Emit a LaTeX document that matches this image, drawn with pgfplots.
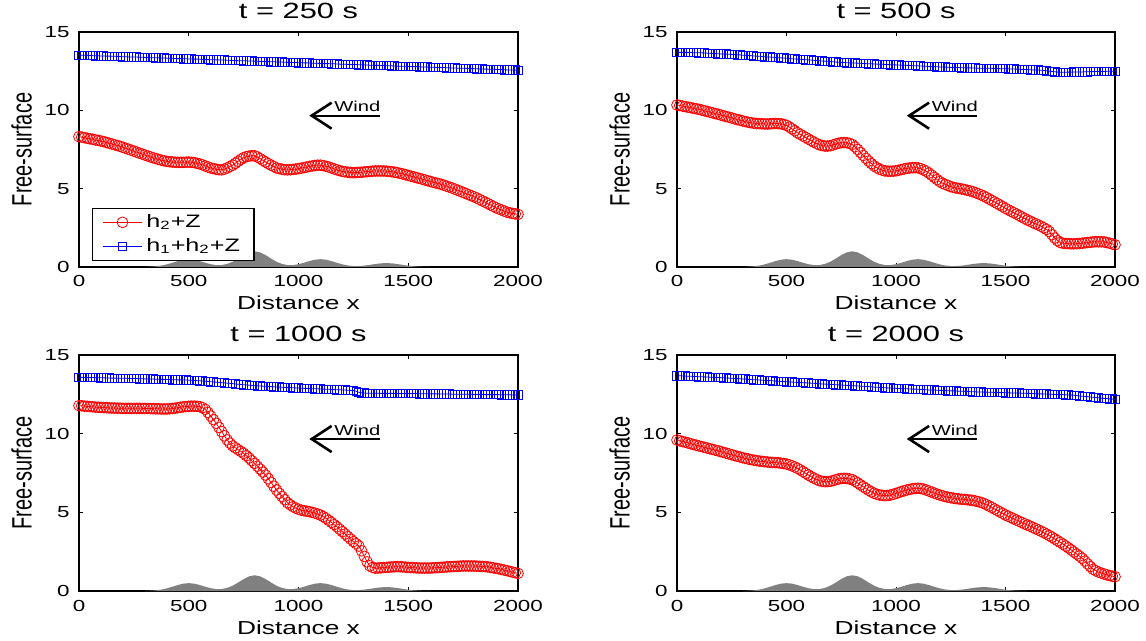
\documentclass[border=0pt]{standalone}
\usepackage{fontspec}
\setmainfont{Liberation Sans}
\newfontfamily\wide{Liberation Sans}[FakeStretch=1.4]
\usepackage{pgfplots}
\usepackage{pgfplotstable}
\pgfplotsset{compat=1.18}

% free surfaces at t = 250, 500, 1000, 2000 s (r = h2+Z, b = h1+h2+Z)
\pgfplotstableread{
x r1 b1 r2 b2 r3 b3 r4 b4
0 8.32 13.52 10.34 13.70 11.78 13.58 9.60 13.68
12.5 8.29 13.52 10.31 13.70 11.77 13.58 9.55 13.68
25 8.25 13.51 10.27 13.70 11.75 13.57 9.50 13.67
37.5 8.22 13.51 10.24 13.70 11.74 13.57 9.46 13.66
50 8.18 13.50 10.20 13.69 11.72 13.57 9.41 13.65
62.5 8.15 13.49 10.17 13.69 11.71 13.57 9.36 13.65
75 8.11 13.48 10.13 13.68 11.69 13.56 9.31 13.64
87.5 8.08 13.48 10.10 13.68 11.68 13.56 9.27 13.63
100 8.04 13.47 10.06 13.67 11.67 13.55 9.22 13.62
112.5 8.00 13.47 10.02 13.67 11.66 13.55 9.18 13.62
125 7.95 13.46 9.97 13.66 11.65 13.54 9.13 13.61
137.5 7.90 13.46 9.93 13.65 11.64 13.54 9.09 13.60
150 7.85 13.45 9.88 13.64 11.63 13.53 9.04 13.59
162.5 7.80 13.45 9.84 13.63 11.63 13.53 9.00 13.58
175 7.75 13.44 9.79 13.62 11.62 13.52 8.95 13.57
187.5 7.70 13.43 9.75 13.61 11.62 13.52 8.91 13.57
200 7.64 13.42 9.70 13.60 11.61 13.52 8.86 13.56
212.5 7.58 13.42 9.65 13.60 11.61 13.52 8.81 13.55
225 7.52 13.41 9.60 13.59 11.61 13.51 8.76 13.54
237.5 7.46 13.41 9.56 13.58 11.61 13.51 8.71 13.53
250 7.40 13.40 9.51 13.57 11.61 13.50 8.66 13.52
262.5 7.33 13.40 9.46 13.56 11.61 13.50 8.61 13.51
275 7.27 13.39 9.41 13.55 11.61 13.49 8.56 13.50
287.5 7.21 13.39 9.37 13.54 11.61 13.49 8.52 13.49
300 7.15 13.38 9.32 13.52 11.60 13.48 8.47 13.48
312.5 7.09 13.37 9.28 13.51 11.60 13.48 8.43 13.47
325 7.03 13.36 9.24 13.50 11.59 13.47 8.39 13.45
337.5 6.97 13.36 9.21 13.49 11.59 13.47 8.35 13.44
350 6.92 13.35 9.18 13.47 11.58 13.46 8.32 13.43
362.5 6.87 13.35 9.16 13.46 11.58 13.46 8.29 13.42
375 6.82 13.34 9.15 13.45 11.57 13.45 8.26 13.41
387.5 6.78 13.34 9.14 13.44 11.57 13.45 8.24 13.40
400 6.74 13.33 9.13 13.42 11.57 13.44 8.22 13.39
412.5 6.72 13.33 9.13 13.41 11.58 13.44 8.20 13.38
425 6.70 13.32 9.14 13.40 11.60 13.43 8.18 13.37
437.5 6.69 13.31 9.15 13.39 11.62 13.43 8.17 13.36
450 6.68 13.30 9.16 13.37 11.65 13.42 8.16 13.34
462.5 6.68 13.30 9.15 13.36 11.68 13.42 8.15 13.33
475 6.68 13.29 9.14 13.35 11.70 13.41 8.13 13.32
487.5 6.69 13.29 9.10 13.34 11.72 13.41 8.10 13.31
500 6.70 13.28 9.04 13.32 11.74 13.40 8.07 13.30
512.5 6.68 13.28 8.94 13.31 11.75 13.39 8.02 13.29
525 6.66 13.27 8.82 13.29 11.75 13.38 7.96 13.28
537.5 6.62 13.27 8.70 13.28 11.74 13.37 7.88 13.27
550 6.58 13.26 8.57 13.27 11.72 13.36 7.80 13.26
562.5 6.52 13.25 8.47 13.26 11.65 13.35 7.70 13.25
575 6.45 13.24 8.37 13.24 11.55 13.33 7.59 13.24
587.5 6.38 13.24 8.27 13.23 11.35 13.32 7.48 13.23
600 6.32 13.23 8.17 13.22 11.12 13.30 7.37 13.22
612.5 6.28 13.23 8.07 13.21 10.89 13.29 7.27 13.21
625 6.24 13.22 7.97 13.19 10.66 13.27 7.17 13.20
637.5 6.21 13.22 7.88 13.18 10.40 13.26 7.09 13.19
650 6.20 13.21 7.80 13.16 10.13 13.24 7.01 13.17
662.5 6.25 13.21 7.75 13.15 9.86 13.23 6.97 13.16
675 6.32 13.20 7.72 13.14 9.60 13.21 6.95 13.15
687.5 6.41 13.19 7.72 13.13 9.40 13.20 6.95 13.14
700 6.50 13.18 7.74 13.11 9.22 13.18 6.97 13.13
712.5 6.62 13.18 7.79 13.10 9.10 13.16 7.02 13.12
725 6.75 13.17 7.85 13.08 8.98 13.14 7.07 13.11
737.5 6.87 13.17 7.90 13.07 8.87 13.13 7.12 13.10
750 6.98 13.16 7.93 13.06 8.75 13.11 7.15 13.09
762.5 7.04 13.16 7.94 13.05 8.60 13.10 7.16 13.08
775 7.08 13.15 7.93 13.04 8.45 13.08 7.15 13.07
787.5 7.10 13.15 7.89 13.03 8.28 13.07 7.12 13.06
800 7.10 13.14 7.82 13.02 8.11 13.05 7.08 13.05
812.5 7.02 13.13 7.67 13.02 7.93 13.04 6.98 13.04
825 6.92 13.12 7.50 13.01 7.75 13.03 6.87 13.03
837.5 6.81 13.12 7.31 13.00 7.56 13.02 6.75 13.02
850 6.70 13.11 7.12 12.99 7.37 13.01 6.63 13.01
862.5 6.60 13.11 6.94 12.98 7.14 13.00 6.52 13.00
875 6.50 13.10 6.76 12.97 6.90 12.99 6.40 12.99
887.5 6.41 13.10 6.60 12.97 6.66 12.98 6.30 12.98
900 6.32 13.09 6.45 12.96 6.42 12.97 6.21 12.96
912.5 6.28 13.09 6.34 12.95 6.21 12.96 6.15 12.95
925 6.24 13.08 6.24 12.94 6.00 12.95 6.10 12.94
937.5 6.21 13.07 6.18 12.94 5.80 12.94 6.08 12.93
950 6.20 13.06 6.13 12.93 5.61 12.93 6.06 12.92
962.5 6.21 13.06 6.12 12.92 5.48 12.93 6.07 12.91
975 6.23 13.05 6.11 12.91 5.36 12.92 6.10 12.90
987.5 6.25 13.05 6.12 12.91 5.27 12.91 6.15 12.89
1000 6.28 13.04 6.14 12.90 5.19 12.90 6.20 12.88
1012.5 6.31 13.04 6.18 12.89 5.14 12.89 6.26 12.87
1025 6.35 13.03 6.22 12.88 5.10 12.88 6.32 12.86
1037.5 6.38 13.03 6.26 12.88 5.07 12.88 6.37 12.86
1050 6.42 13.02 6.30 12.87 5.04 12.87 6.42 12.85
1062.5 6.45 13.01 6.32 12.86 5.00 12.86 6.46 12.84
1075 6.48 13.00 6.34 12.85 4.95 12.85 6.50 12.83
1087.5 6.50 13.00 6.34 12.85 4.89 12.85 6.52 12.83
1100 6.50 12.99 6.33 12.84 4.83 12.84 6.53 12.82
1112.5 6.47 12.99 6.28 12.83 4.73 12.83 6.51 12.81
1125 6.43 12.98 6.20 12.82 4.62 12.82 6.48 12.80
1137.5 6.38 12.98 6.11 12.81 4.49 12.82 6.42 12.79
1150 6.32 12.97 6.00 12.80 4.36 12.81 6.36 12.78
1162.5 6.26 12.97 5.86 12.80 4.22 12.80 6.29 12.78
1175 6.20 12.96 5.72 12.79 4.08 12.79 6.22 12.77
1187.5 6.15 12.95 5.58 12.78 3.93 12.79 6.16 12.76
1200 6.10 12.94 5.45 12.77 3.77 12.78 6.10 12.75
1212.5 6.07 12.94 5.35 12.77 3.62 12.77 6.05 12.75
1225 6.05 12.93 5.27 12.76 3.46 12.76 6.00 12.74
1237.5 6.03 12.93 5.20 12.75 3.30 12.75 5.96 12.73
1250 6.02 12.92 5.13 12.74 3.14 12.74 5.93 12.72
1262.5 6.03 12.92 5.08 12.74 3.01 12.70 5.90 12.72
1275 6.04 12.91 5.04 12.73 2.86 12.63 5.87 12.71
1287.5 6.05 12.91 5.01 12.73 2.55 12.60 5.85 12.70
1300 6.07 12.90 4.98 12.72 2.20 12.58 5.83 12.69
1312.5 6.08 12.89 4.94 12.72 1.85 12.57 5.82 12.69
1325 6.10 12.88 4.90 12.71 1.60 12.57 5.80 12.68
1337.5 6.12 12.88 4.86 12.71 1.50 12.57 5.78 12.67
1350 6.13 12.87 4.81 12.70 1.45 12.57 5.76 12.66
1362.5 6.13 12.87 4.75 12.70 1.46 12.57 5.72 12.66
1375 6.13 12.86 4.68 12.69 1.48 12.56 5.68 12.65
1387.5 6.13 12.86 4.61 12.69 1.49 12.56 5.63 12.65
1400 6.12 12.85 4.53 12.69 1.50 12.56 5.57 12.64
1412.5 6.10 12.85 4.44 12.69 1.52 12.56 5.49 12.64
1425 6.08 12.84 4.34 12.68 1.53 12.56 5.40 12.63
1437.5 6.05 12.83 4.25 12.68 1.54 12.56 5.31 12.63
1450 6.02 12.82 4.15 12.67 1.55 12.55 5.21 12.62
1462.5 5.98 12.82 4.05 12.67 1.54 12.55 5.12 12.62
1475 5.94 12.81 3.95 12.66 1.53 12.55 5.02 12.61
1487.5 5.89 12.81 3.85 12.66 1.52 12.55 4.93 12.61
1500 5.84 12.80 3.74 12.66 1.50 12.55 4.83 12.60
1512.5 5.80 12.80 3.65 12.65 1.49 12.55 4.75 12.60
1525 5.75 12.79 3.56 12.64 1.48 12.55 4.67 12.59
1537.5 5.70 12.79 3.47 12.64 1.47 12.55 4.59 12.59
1550 5.66 12.78 3.38 12.63 1.46 12.54 4.51 12.58
1562.5 5.61 12.77 3.29 12.62 1.46 12.54 4.43 12.58
1575 5.56 12.76 3.19 12.61 1.46 12.54 4.35 12.57
1587.5 5.51 12.76 3.10 12.61 1.46 12.54 4.27 12.57
1600 5.46 12.75 3.00 12.60 1.46 12.53 4.19 12.56
1612.5 5.41 12.75 2.92 12.59 1.47 12.53 4.12 12.56
1625 5.37 12.74 2.84 12.58 1.48 12.53 4.04 12.55
1637.5 5.32 12.74 2.76 12.58 1.49 12.53 3.96 12.54
1650 5.28 12.73 2.68 12.57 1.50 12.52 3.88 12.53
1662.5 5.22 12.73 2.60 12.56 1.52 12.52 3.80 12.53
1675 5.16 12.72 2.50 12.54 1.53 12.52 3.71 12.52
1687.5 5.10 12.71 2.40 12.52 1.54 12.52 3.62 12.52
1700 5.04 12.70 2.26 12.50 1.55 12.51 3.52 12.51
1712.5 4.97 12.70 2.06 12.48 1.56 12.51 3.42 12.50
1725 4.90 12.69 1.85 12.46 1.57 12.51 3.31 12.49
1737.5 4.83 12.69 1.68 12.44 1.58 12.51 3.20 12.49
1750 4.76 12.68 1.56 12.43 1.59 12.50 3.09 12.48
1762.5 4.69 12.68 1.52 12.43 1.59 12.50 2.98 12.48
1775 4.62 12.67 1.50 12.43 1.59 12.50 2.86 12.47
1787.5 4.55 12.67 1.49 12.44 1.59 12.50 2.74 12.46
1800 4.48 12.66 1.48 12.44 1.59 12.49 2.61 12.45
1812.5 4.40 12.65 1.48 12.45 1.58 12.49 2.48 12.44
1825 4.31 12.64 1.49 12.45 1.57 12.49 2.35 12.42
1837.5 4.22 12.64 1.50 12.45 1.56 12.49 2.22 12.40
1850 4.14 12.63 1.52 12.45 1.55 12.48 2.08 12.38
1862.5 4.05 12.63 1.54 12.46 1.53 12.48 1.90 12.37
1875 3.96 12.62 1.56 12.46 1.50 12.48 1.72 12.35
1887.5 3.87 12.62 1.58 12.47 1.47 12.48 1.55 12.33
1900 3.78 12.61 1.60 12.47 1.44 12.48 1.38 12.31
1912.5 3.71 12.61 1.61 12.48 1.41 12.48 1.29 12.30
1925 3.64 12.60 1.61 12.48 1.37 12.47 1.20 12.28
1937.5 3.57 12.59 1.61 12.48 1.33 12.47 1.14 12.26
1950 3.50 12.58 1.60 12.48 1.29 12.47 1.08 12.24
1962.5 3.46 12.58 1.56 12.49 1.25 12.47 1.03 12.23
1975 3.42 12.57 1.52 12.49 1.20 12.46 0.98 12.21
1987.5 3.39 12.57 1.47 12.50 1.16 12.46 0.94 12.20
2000 3.36 12.56 1.42 12.50 1.12 12.46 0.91 12.18
}\fs

% bottom topography Z(x)
\pgfplotstableread{
x z
300 0.006
325 0.017
350 0.041
375 0.089
400 0.165
425 0.268
450 0.379
475 0.467
500 0.500
525 0.467
550 0.380
575 0.272
600 0.177
625 0.123
650 0.124
675 0.194
700 0.336
725 0.538
750 0.758
775 0.933
800 1.000
825 0.933
850 0.759
875 0.538
900 0.336
925 0.194
950 0.124
975 0.123
1000 0.177
1025 0.272
1050 0.380
1075 0.467
1100 0.500
1125 0.467
1150 0.379
1175 0.269
1200 0.168
1225 0.097
1250 0.062
1275 0.061
1300 0.088
1325 0.136
1350 0.190
1375 0.233
1400 0.250
1425 0.233
1450 0.190
1475 0.134
1500 0.083
1525 0.044
1550 0.021
1575 0.008
1600 0.003
}\bed

\pgfplotsset{
  panel/.style={
    scale only axis, width=219.5pt, height=117.5pt,
    anchor=south west,
    xmin=0, xmax=2000, ymin=0, ymax=15,
    xtick={0,500,1000,1500,2000}, ytick={0,5,10,15},
    tick align=inside, xtick pos=both, ytick pos=both,
    major tick length=2pt,
    every tick/.style={black, line width=0.5pt},
    axis line style={line width=0.8pt},
    clip=false,
    /pgf/number format/assume math mode=true,
    /pgf/number format/set thousands separator={},
    tick label style={font=\wide\fontsize{8}{9}\selectfont},
    xticklabel style={anchor=base, yshift=-10pt},
    yticklabel style={anchor=east, inner sep=0pt, xshift=-4.5pt},
    every axis title shift=0pt,
    title style={font=\wide\fontsize{11}{13}\selectfont, at={(0.5,1)}, anchor=base, yshift=6.75pt},
    every axis x label/.style={at={(rel axis cs:0.5,0)}, anchor=base, yshift=-21.5pt, font=\wide\fontsize{9.4}{11}\selectfont},
    every axis y label/.style={at={(rel axis cs:-0.108,0.5)}, xscale=1.4, rotate=90, anchor=base, font=\fontsize{10}{12}\selectfont},
    xlabel={Distance x}, ylabel={Free-surface},
  },
  red surf/.style={red, line width=0.4pt, mark=o, mark size=2.7pt},
  blue surf/.style={blue, line width=0.4pt, mark=square, mark size=2.1pt},
  bed/.style={draw=none, fill=black!50, forget plot},
}

\newcommand{\wind}{%
  \draw[line width=1pt] (axis cs:1371,9.66) -- (axis cs:1060,9.66);
  \draw[line width=1.3pt] (axis cs:1151,10.49) -- (axis cs:1060,9.66) -- (axis cs:1151,8.83);
  \node[anchor=base west, inner sep=0pt, font=\wide\fontsize{7.2}{8}\selectfont] at (axis cs:1162,9.66) [yshift=2pt] {Wind};
}

\begin{document}
\begin{tikzpicture}

\begin{axis}[panel, at={(39.5pt,-133.5pt)}, title={t = 250 s},
  legend style={at={(rel axis cs:0.0296,0.0255)}, anchor=south west, draw=black, line width=0.6pt, fill=white,
    font=\wide\fontsize{9}{10}\selectfont, inner xsep=5pt, inner ysep=1pt, row sep=0pt},
  legend cell align=left,
  legend image code/.code={\draw[mark repeat=2, mark phase=2, #1] plot coordinates {(0pt,0pt) (9.75pt,0pt) (19.5pt,0pt)};}]
\addplot[bed] table {\bed} \closedcycle;
\addplot[red surf] table[x=x, y=r1] {\fs};
\addlegendentry{h\textsubscript{2}+Z\hspace{12pt}}
\addplot[blue surf] table[x=x, y=b1] {\fs};
\addlegendentry{h\textsubscript{1}+h\textsubscript{2}+Z\hspace{12pt}}
\wind
\end{axis}

\begin{axis}[panel, at={(338.5pt,-133.5pt)}, width=219pt, title={t = 500 s}]
\addplot[bed] table {\bed} \closedcycle;
\addplot[red surf] table[x=x, y=r2] {\fs};
\addplot[blue surf] table[x=x, y=b2] {\fs};
\wind
\end{axis}

\begin{axis}[panel, at={(39.5pt,-295.5pt)}, height=118pt, title={t = 1000 s}]
\addplot[bed] table {\bed} \closedcycle;
\addplot[red surf] table[x=x, y=r3] {\fs};
\addplot[blue surf] table[x=x, y=b3] {\fs};
\wind
\end{axis}

\begin{axis}[panel, at={(338.5pt,-295.5pt)}, width=219pt, height=118pt, title={t = 2000 s}]
\addplot[bed] table {\bed} \closedcycle;
\addplot[red surf] table[x=x, y=r4] {\fs};
\addplot[blue surf] table[x=x, y=b4] {\fs};
\wind
\end{axis}

\pgfresetboundingbox
\useasboundingbox (0pt,0pt) rectangle (573pt,-320.5pt);
\end{tikzpicture}
\end{document}
